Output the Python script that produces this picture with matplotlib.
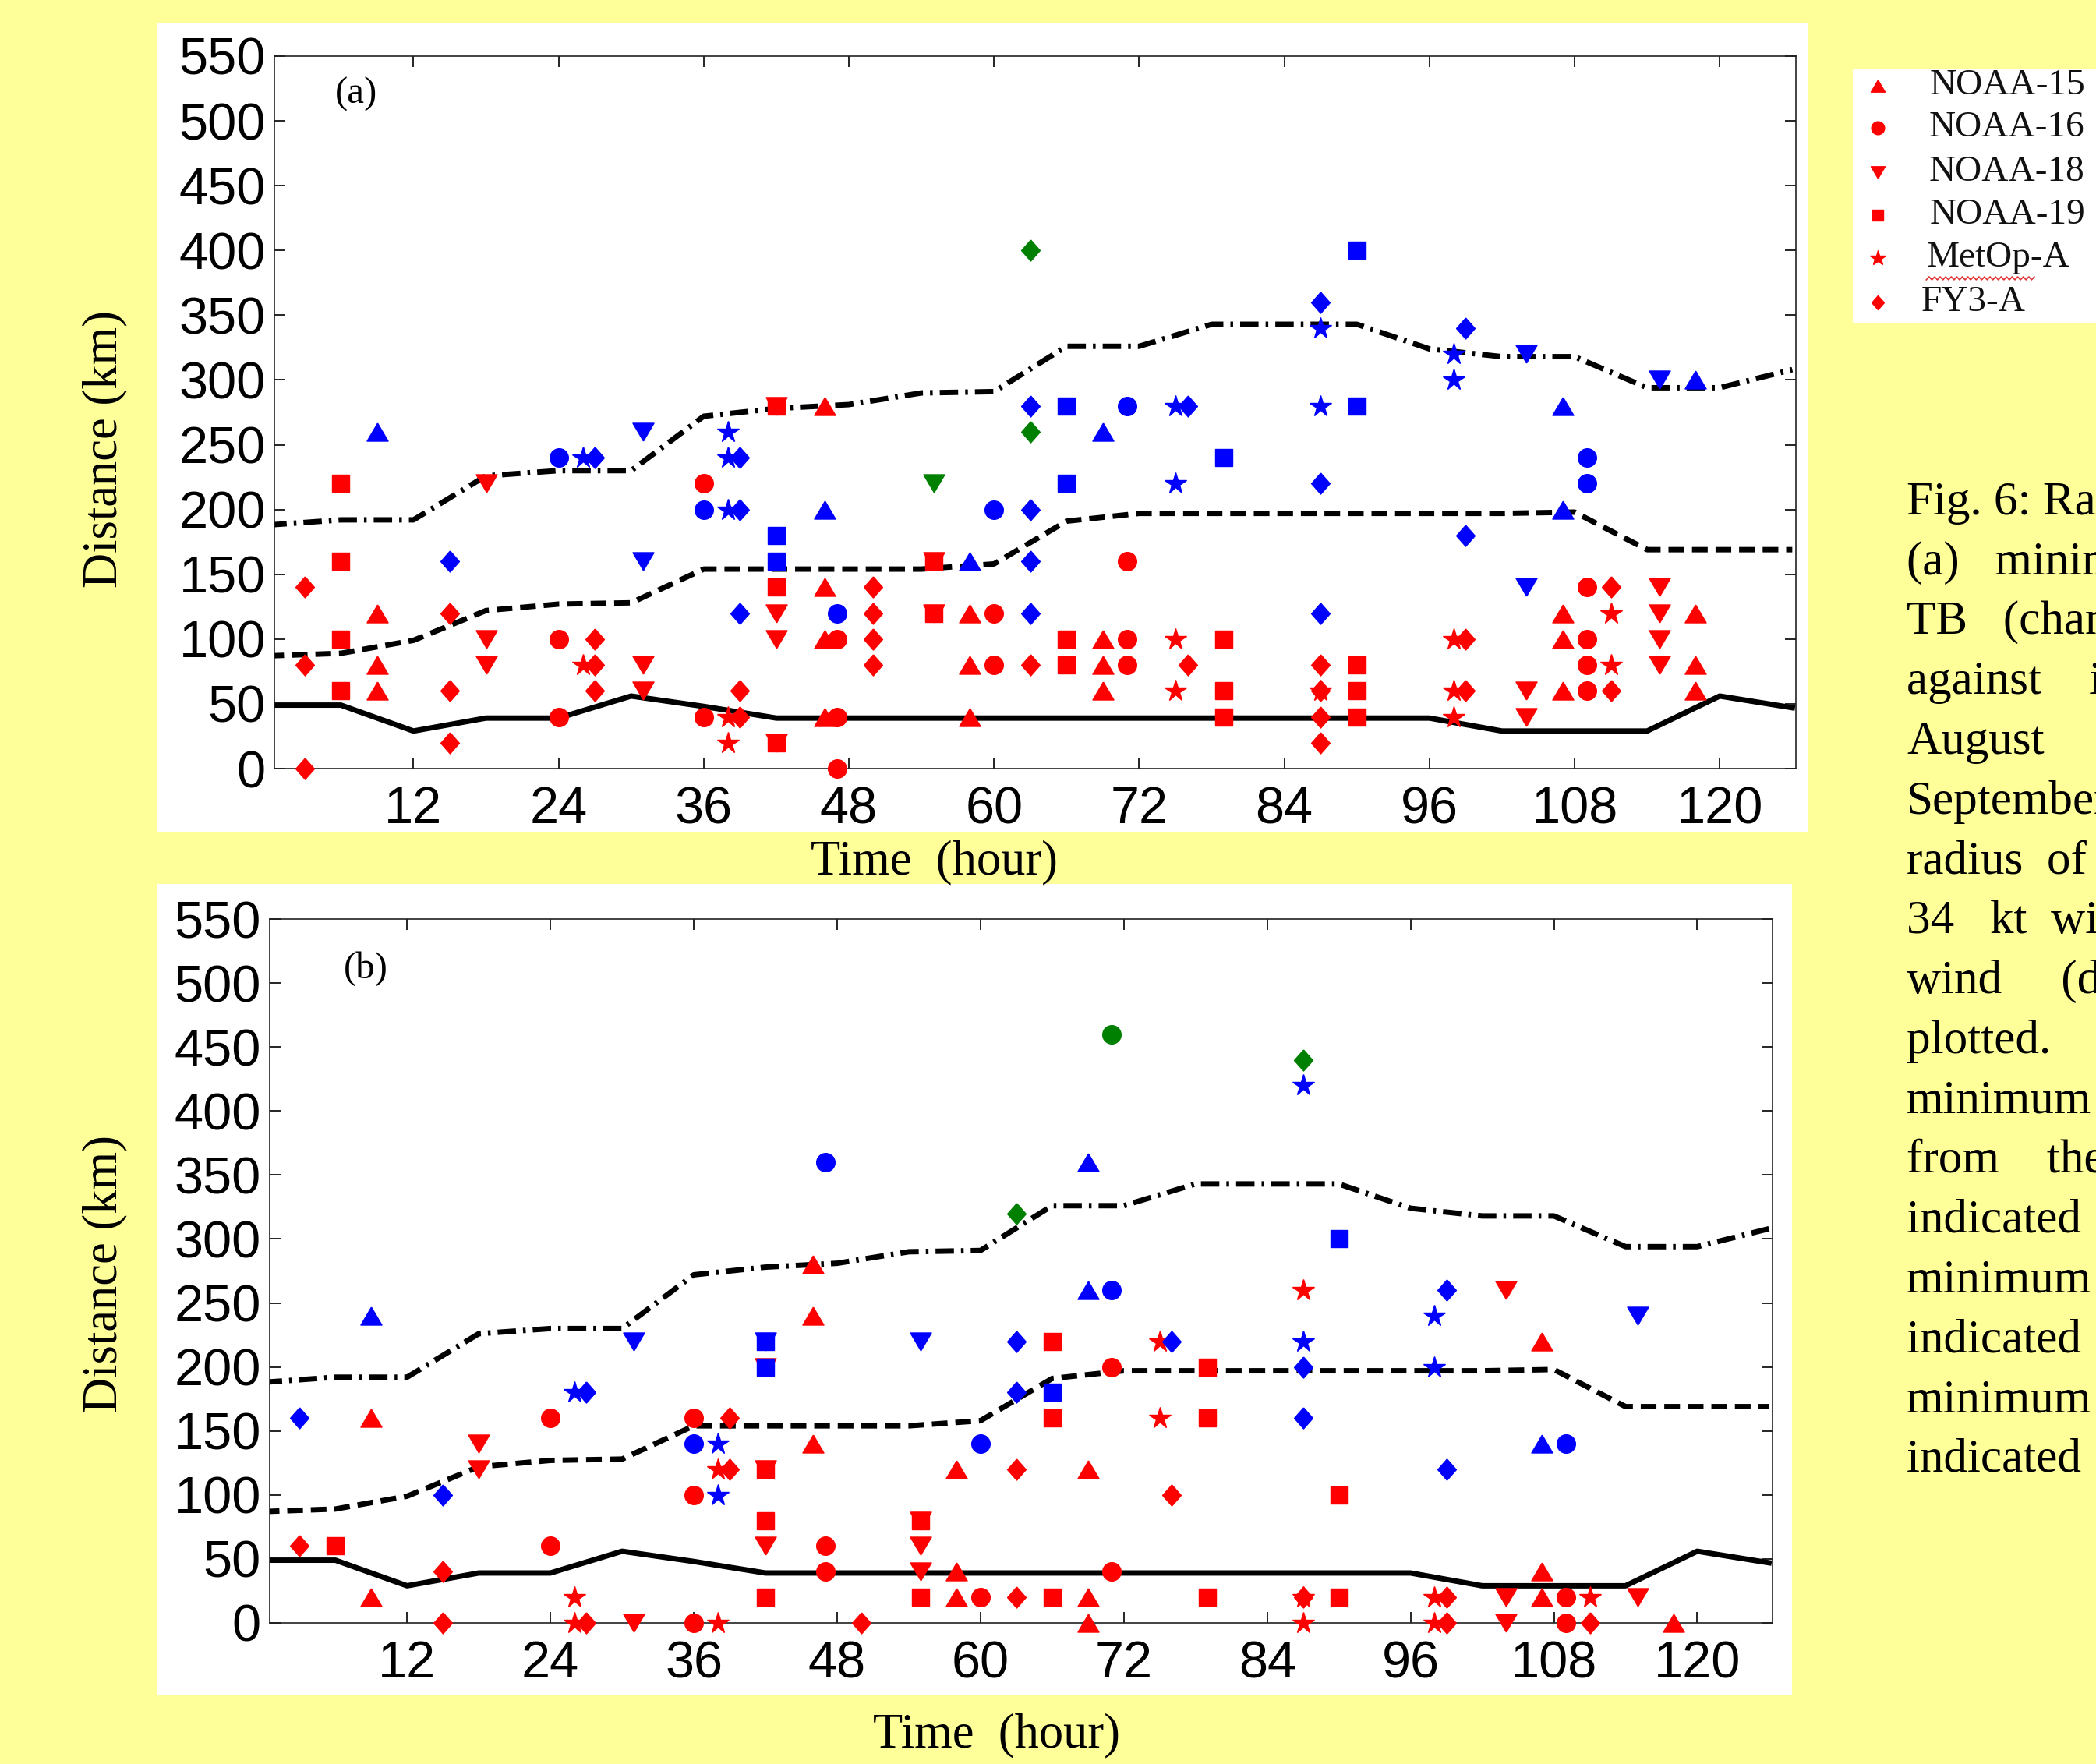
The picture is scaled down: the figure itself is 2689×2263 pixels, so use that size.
import matplotlib
matplotlib.use('Agg')
import matplotlib.pyplot as plt
from matplotlib.patches import Rectangle

# radius curves (km) every 6 hours
hours = [0, 6, 12, 18, 24, 30, 36, 42, 48, 54, 60, 66, 72, 78, 84, 90, 96, 102, 108, 114, 120, 126]
r_solid = [49, 49, 29, 39, 39, 56, 48, 39, 39, 39, 39, 39, 39, 39, 39, 39, 39, 29, 29, 29, 56, 47]
r_dashed = [87, 89, 99, 122, 127, 128, 154, 154, 154, 154, 158, 191, 197, 197, 197, 197, 197, 197, 198, 169, 169, 169]
r_dashdot = [188, 192, 192, 226, 230, 230, 272, 278, 281, 290, 291, 326, 326, 343, 343, 343, 324, 318, 318, 294, 294, 308]

# panel (a): (hour, distance km, colour)
a_noaa15 = [(9, 260, 'b'), (9, 120, 'r'), (9, 80, 'r'), (9, 60, 'r'),
            (46, 280, 'r'), (46, 200, 'b'), (46, 140, 'r'), (46, 100, 'r'), (46, 40, 'r'),
            (58, 160, 'b'), (58, 120, 'r'), (58, 80, 'r'), (58, 40, 'r'),
            (69, 260, 'b'), (69, 100, 'r'), (69, 80, 'r'), (69, 60, 'r'),
            (107, 280, 'b'), (107, 200, 'b'), (107, 120, 'r'), (107, 100, 'r'), (107, 60, 'r'),
            (118, 300, 'b'), (118, 120, 'r'), (118, 80, 'r'), (118, 60, 'r')]
a_noaa16 = [(24, 240, 'b'), (24, 100, 'r'), (24, 40, 'r'),
            (36, 220, 'r'), (36, 200, 'b'), (36, 40, 'r'),
            (47, 120, 'b'), (47, 100, 'r'), (47, 40, 'r'), (47, 0, 'r'),
            (60, 200, 'b'), (60, 120, 'r'), (60, 80, 'r'),
            (71, 280, 'b'), (71, 160, 'r'), (71, 100, 'r'), (71, 80, 'r'),
            (109, 240, 'b'), (109, 220, 'b'), (109, 140, 'r'), (109, 100, 'r'), (109, 80, 'r'), (109, 60, 'r')]
a_noaa18 = [(18, 220, 'r'), (18, 100, 'r'), (18, 80, 'r'),
            (31, 260, 'b'), (31, 160, 'b'), (31, 80, 'r'), (31, 60, 'r'),
            (42, 280, 'r'), (42, 120, 'r'), (42, 100, 'r'), (42, 20, 'r'),
            (55, 220, 'g'), (55, 160, 'r'), (55, 120, 'r'),
            (104, 320, 'b'), (104, 140, 'b'), (104, 60, 'r'), (104, 40, 'r'),
            (115, 300, 'b'), (115, 140, 'r'), (115, 120, 'r'), (115, 100, 'r'), (115, 80, 'r')]
a_noaa19 = [(6, 220, 'r'), (6, 160, 'r'), (6, 100, 'r'), (6, 60, 'r'),
            (42, 280, 'r'), (42, 180, 'b'), (42, 160, 'b'), (42, 140, 'r'), (42, 20, 'r'),
            (55, 160, 'r'), (55, 120, 'r'),
            (66, 280, 'b'), (66, 220, 'b'), (66, 100, 'r'), (66, 80, 'r'),
            (79, 240, 'b'), (79, 100, 'r'), (79, 60, 'r'), (79, 40, 'r'),
            (90, 400, 'b'), (90, 280, 'b'), (90, 80, 'r'), (90, 60, 'r'), (90, 40, 'r')]
a_metopa = [(26, 240, 'b'), (26, 80, 'r'),
            (38, 260, 'b'), (38, 240, 'b'), (38, 200, 'b'), (38, 40, 'r'), (38, 20, 'r'),
            (75, 280, 'b'), (75, 220, 'b'), (75, 100, 'r'), (75, 60, 'r'),
            (87, 340, 'b'), (87, 280, 'b'), (87, 60, 'r'),
            (98, 320, 'b'), (98, 300, 'b'), (98, 100, 'r'), (98, 60, 'r'), (98, 40, 'r'),
            (111, 120, 'r'), (111, 80, 'r')]
a_fy3a = [(3, 140, 'r'), (3, 80, 'r'), (3, 0, 'r'),
          (15, 160, 'b'), (15, 120, 'r'), (15, 60, 'r'), (15, 20, 'r'),
          (27, 240, 'b'), (27, 100, 'r'), (27, 80, 'r'), (27, 60, 'r'),
          (39, 240, 'b'), (39, 200, 'b'), (39, 120, 'b'), (39, 60, 'r'), (39, 40, 'r'),
          (50, 140, 'r'), (50, 120, 'r'), (50, 100, 'r'), (50, 80, 'r'),
          (63, 400, 'g'), (63, 280, 'b'), (63, 260, 'g'), (63, 200, 'b'), (63, 160, 'b'), (63, 120, 'b'), (63, 80, 'r'),
          (76, 280, 'b'), (76, 80, 'r'),
          (87, 360, 'b'), (87, 220, 'b'), (87, 120, 'b'), (87, 80, 'r'), (87, 60, 'r'), (87, 40, 'r'), (87, 20, 'r'),
          (99, 340, 'b'), (99, 180, 'b'), (99, 100, 'r'), (99, 60, 'r'),
          (111, 140, 'r'), (111, 60, 'r')]

# panel (b)
b_noaa15 = [(9, 240, 'b'), (9, 160, 'r'), (9, 20, 'r'),
            (46, 280, 'r'), (46, 240, 'r'), (46, 140, 'r'),
            (58, 120, 'r'), (58, 40, 'r'), (58, 20, 'r'),
            (69, 360, 'b'), (69, 260, 'b'), (69, 120, 'r'), (69, 20, 'r'), (69, 0, 'r'),
            (107, 220, 'r'), (107, 140, 'b'), (107, 40, 'r'), (107, 20, 'r'),
            (118, 0, 'r')]
b_noaa16 = [(24, 160, 'r'), (24, 60, 'r'),
            (36, 160, 'r'), (36, 140, 'b'), (36, 100, 'r'), (36, 0, 'r'),
            (47, 360, 'b'), (47, 60, 'r'), (47, 40, 'r'),
            (60, 140, 'b'), (60, 20, 'r'),
            (71, 460, 'g'), (71, 260, 'b'), (71, 200, 'r'), (71, 40, 'r'),
            (109, 140, 'b'), (109, 20, 'r'), (109, 0, 'r')]
b_noaa18 = [(18, 140, 'r'), (18, 120, 'r'),
            (31, 220, 'b'), (31, 0, 'r'),
            (42, 220, 'b'), (42, 200, 'r'), (42, 120, 'r'), (42, 60, 'r'),
            (55, 220, 'b'), (55, 80, 'r'), (55, 60, 'r'), (55, 40, 'r'),
            (104, 260, 'r'), (104, 20, 'r'), (104, 0, 'r'),
            (115, 240, 'b'), (115, 20, 'r')]
b_noaa19 = [(6, 60, 'r'),
            (42, 220, 'b'), (42, 200, 'b'), (42, 120, 'r'), (42, 80, 'r'), (42, 20, 'r'),
            (55, 80, 'r'), (55, 20, 'r'),
            (66, 220, 'r'), (66, 180, 'b'), (66, 160, 'r'), (66, 20, 'r'),
            (79, 200, 'r'), (79, 160, 'r'), (79, 20, 'r'),
            (90, 300, 'b'), (90, 100, 'r'), (90, 20, 'r')]
b_metopa = [(26, 180, 'b'), (26, 20, 'r'), (26, 0, 'r'),
            (38, 140, 'b'), (38, 120, 'r'), (38, 100, 'b'), (38, 0, 'r'),
            (75, 220, 'r'), (75, 160, 'r'),
            (87, 420, 'b'), (87, 260, 'r'), (87, 220, 'b'), (87, 20, 'r'), (87, 0, 'r'),
            (98, 240, 'b'), (98, 200, 'b'), (98, 20, 'r'), (98, 0, 'r'),
            (111, 20, 'r')]
b_fy3a = [(3, 160, 'b'), (3, 60, 'r'),
          (15, 100, 'b'), (15, 40, 'r'), (15, 0, 'r'),
          (27, 180, 'b'), (27, 0, 'r'),
          (39, 160, 'r'), (39, 120, 'r'),
          (50, 0, 'r'),
          (63, 320, 'g'), (63, 220, 'b'), (63, 180, 'b'), (63, 120, 'r'), (63, 20, 'r'),
          (76, 220, 'b'), (76, 100, 'r'),
          (87, 440, 'g'), (87, 200, 'b'), (87, 160, 'b'), (87, 20, 'r'),
          (99, 260, 'b'), (99, 120, 'b'), (99, 20, 'r'), (99, 0, 'r'),
          (111, 0, 'r')]

satellites = ['NOAA-15', 'NOAA-16', 'NOAA-18', 'NOAA-19', 'MetOp-A', 'FY3-A']

colours = {'r': '#ff0000', 'b': '#0000ff', 'g': '#008000'}
tri_up = [(0, 0.85), (-1, -0.85), (1, -0.85), (0, 0.85)]
tri_down = [(0, -0.85), (-1, 0.85), (1, 0.85), (0, -0.85)]
diamond = [(0, 1), (0.88, 0), (0, -1), (-0.88, 0), (0, 1)]
markers = [(tri_up, 19.5), ('o', 17), (tri_down, 19.5), ('s', 15.5), ('*', 20.5), (diamond, 19.5)]

W, H = 2689, 2263
YELLOW = '#ffff99'
serif = 'Liberation Serif'
sans = 'Liberation Sans'


def px_box(x0, y0, x1, y1):
    # pixel box (top-left origin) -> figure fraction rect
    return [x0 / W, 1 - y1 / H, (x1 - x0) / W, (y1 - y0) / H]


fig = plt.figure(figsize=(W / 100, H / 100), dpi=100, facecolor=YELLOW)

for box in [(201, 30, 2319, 1067), (201, 1134, 2299, 2174)]:
    r = px_box(*box)
    fig.add_artist(Rectangle((r[0], r[1]), r[2], r[3], transform=fig.transFigure,
                             facecolor='white', edgecolor='none', zorder=0))


def draw_panel(ax, groups, tag, tag_pos):
    ax.plot(hours, r_solid, color='black', lw=5, solid_joinstyle='round')
    ax.plot(hours, r_dashed, color='black', lw=5, dashes=(2.9, 1.45))
    ax.plot(hours, r_dashdot, color='black', lw=5, dashes=(3.4, 1.3, 0.5, 1.3))
    for pts, (mk, ms) in zip(groups, markers):
        for h, d, c in pts:
            ax.plot(h, d, linestyle='none', marker=mk, ms=ms, color=colours[c],
                    mec=colours[c], clip_on=False, zorder=3)
    ax.set_xlim(0.5, 126.3)
    ax.set_ylim(0, 550)
    ax.set_xticks(range(12, 121, 12))
    ax.set_yticks(range(0, 551, 50))
    ax.tick_params(direction='in', length=10, width=1.2, top=True, right=True,
                   labelsize=48, colors='black')
    ax.tick_params(axis='x', pad=16)
    ax.tick_params(axis='y', pad=8)
    for lab in ax.get_xticklabels() + ax.get_yticklabels():
        lab.set_fontfamily(sans)
    for sp in ax.spines.values():
        sp.set_linewidth(1.2)
        sp.set_color('#222222')
    ax.text(tag_pos[0], tag_pos[1], tag, transform=ax.transAxes, fontsize=35,
            family=serif, ha='center', va='center')


ax_a = fig.add_axes(px_box(352, 72, 2304, 986))
draw_panel(ax_a, [a_noaa15, a_noaa16, a_noaa18, a_noaa19, a_metopa, a_fy3a], '(a)', (0.054, 0.947))

ax_b = fig.add_axes(px_box(346, 1179, 2274, 2082))
draw_panel(ax_b, [b_noaa15, b_noaa16, b_noaa18, b_noaa19, b_metopa, b_fy3a], '(b)', (0.064, 0.93))

# axis titles (on the yellow background)
for y in (576, 1634):
    fig.text(134 / W, 1 - y / H, 'Distance (km)', rotation=90, fontsize=45,
             family=serif, ha='center', va='center')
fig.text(1199 / W, 1 - 1106 / H, 'Time  (hour)', fontsize=45, family=serif,
         ha='center', va='center')
fig.text(1279 / W, 1 - 2226 / H, 'Time  (hour)', fontsize=45, family=serif,
         ha='center', va='center')

# legend box
leg = fig.add_axes(px_box(2377, 89, 2700, 415), facecolor='white')
leg.set_xticks([])
leg.set_yticks([])
for sp in leg.spines.values():
    sp.set_visible(False)
leg.set_xlim(0, 1)
leg.set_ylim(0, 1)
row_y = [0.936, 0.770, 0.595, 0.426, 0.258, 0.083]
text_x = [0.305, 0.302, 0.302, 0.305, 0.292, 0.27]
leg_ms = [13, 12, 13, 10.5, 15, 13]
for name, (mk, _), ms, y, tx in zip(satellites, markers, leg_ms, row_y, text_x):
    leg.plot(0.1, y, linestyle='none', marker=mk, ms=ms, color='#ff0000')
    leg.text(tx, y, name, fontsize=34, family=serif, ha='left', va='center',
             color='#111111')
# spell-check squiggle under "MetOp"
wx = [0.292 + i * 0.011 for i in range(40)]
wy = [0.178 + (0.006 if i % 2 else -0.006) for i in range(40)]
leg.plot(wx, wy, color='#e03030', lw=1.2)

# caption text, cut off at the right edge
caption = ['Fig. 6: Radial distances', '(a)   minimum', 'TB   (channel', 'against    its',
           'August', 'September', 'radius  of', '34   kt  wind', 'wind     (dashed',
           'plotted.           The', 'minimum', 'from    the', 'indicated   by', 'minimum',
           'indicated   by', 'minimum', 'indicated   by']
for i, line in enumerate(caption):
    y = 645 + i * 76.75
    fig.text(2446 / W, 1 - y / H, line, fontsize=44, family=serif, ha='left',
             va='center')

fig.savefig('out.png', dpi=100, facecolor=YELLOW)
